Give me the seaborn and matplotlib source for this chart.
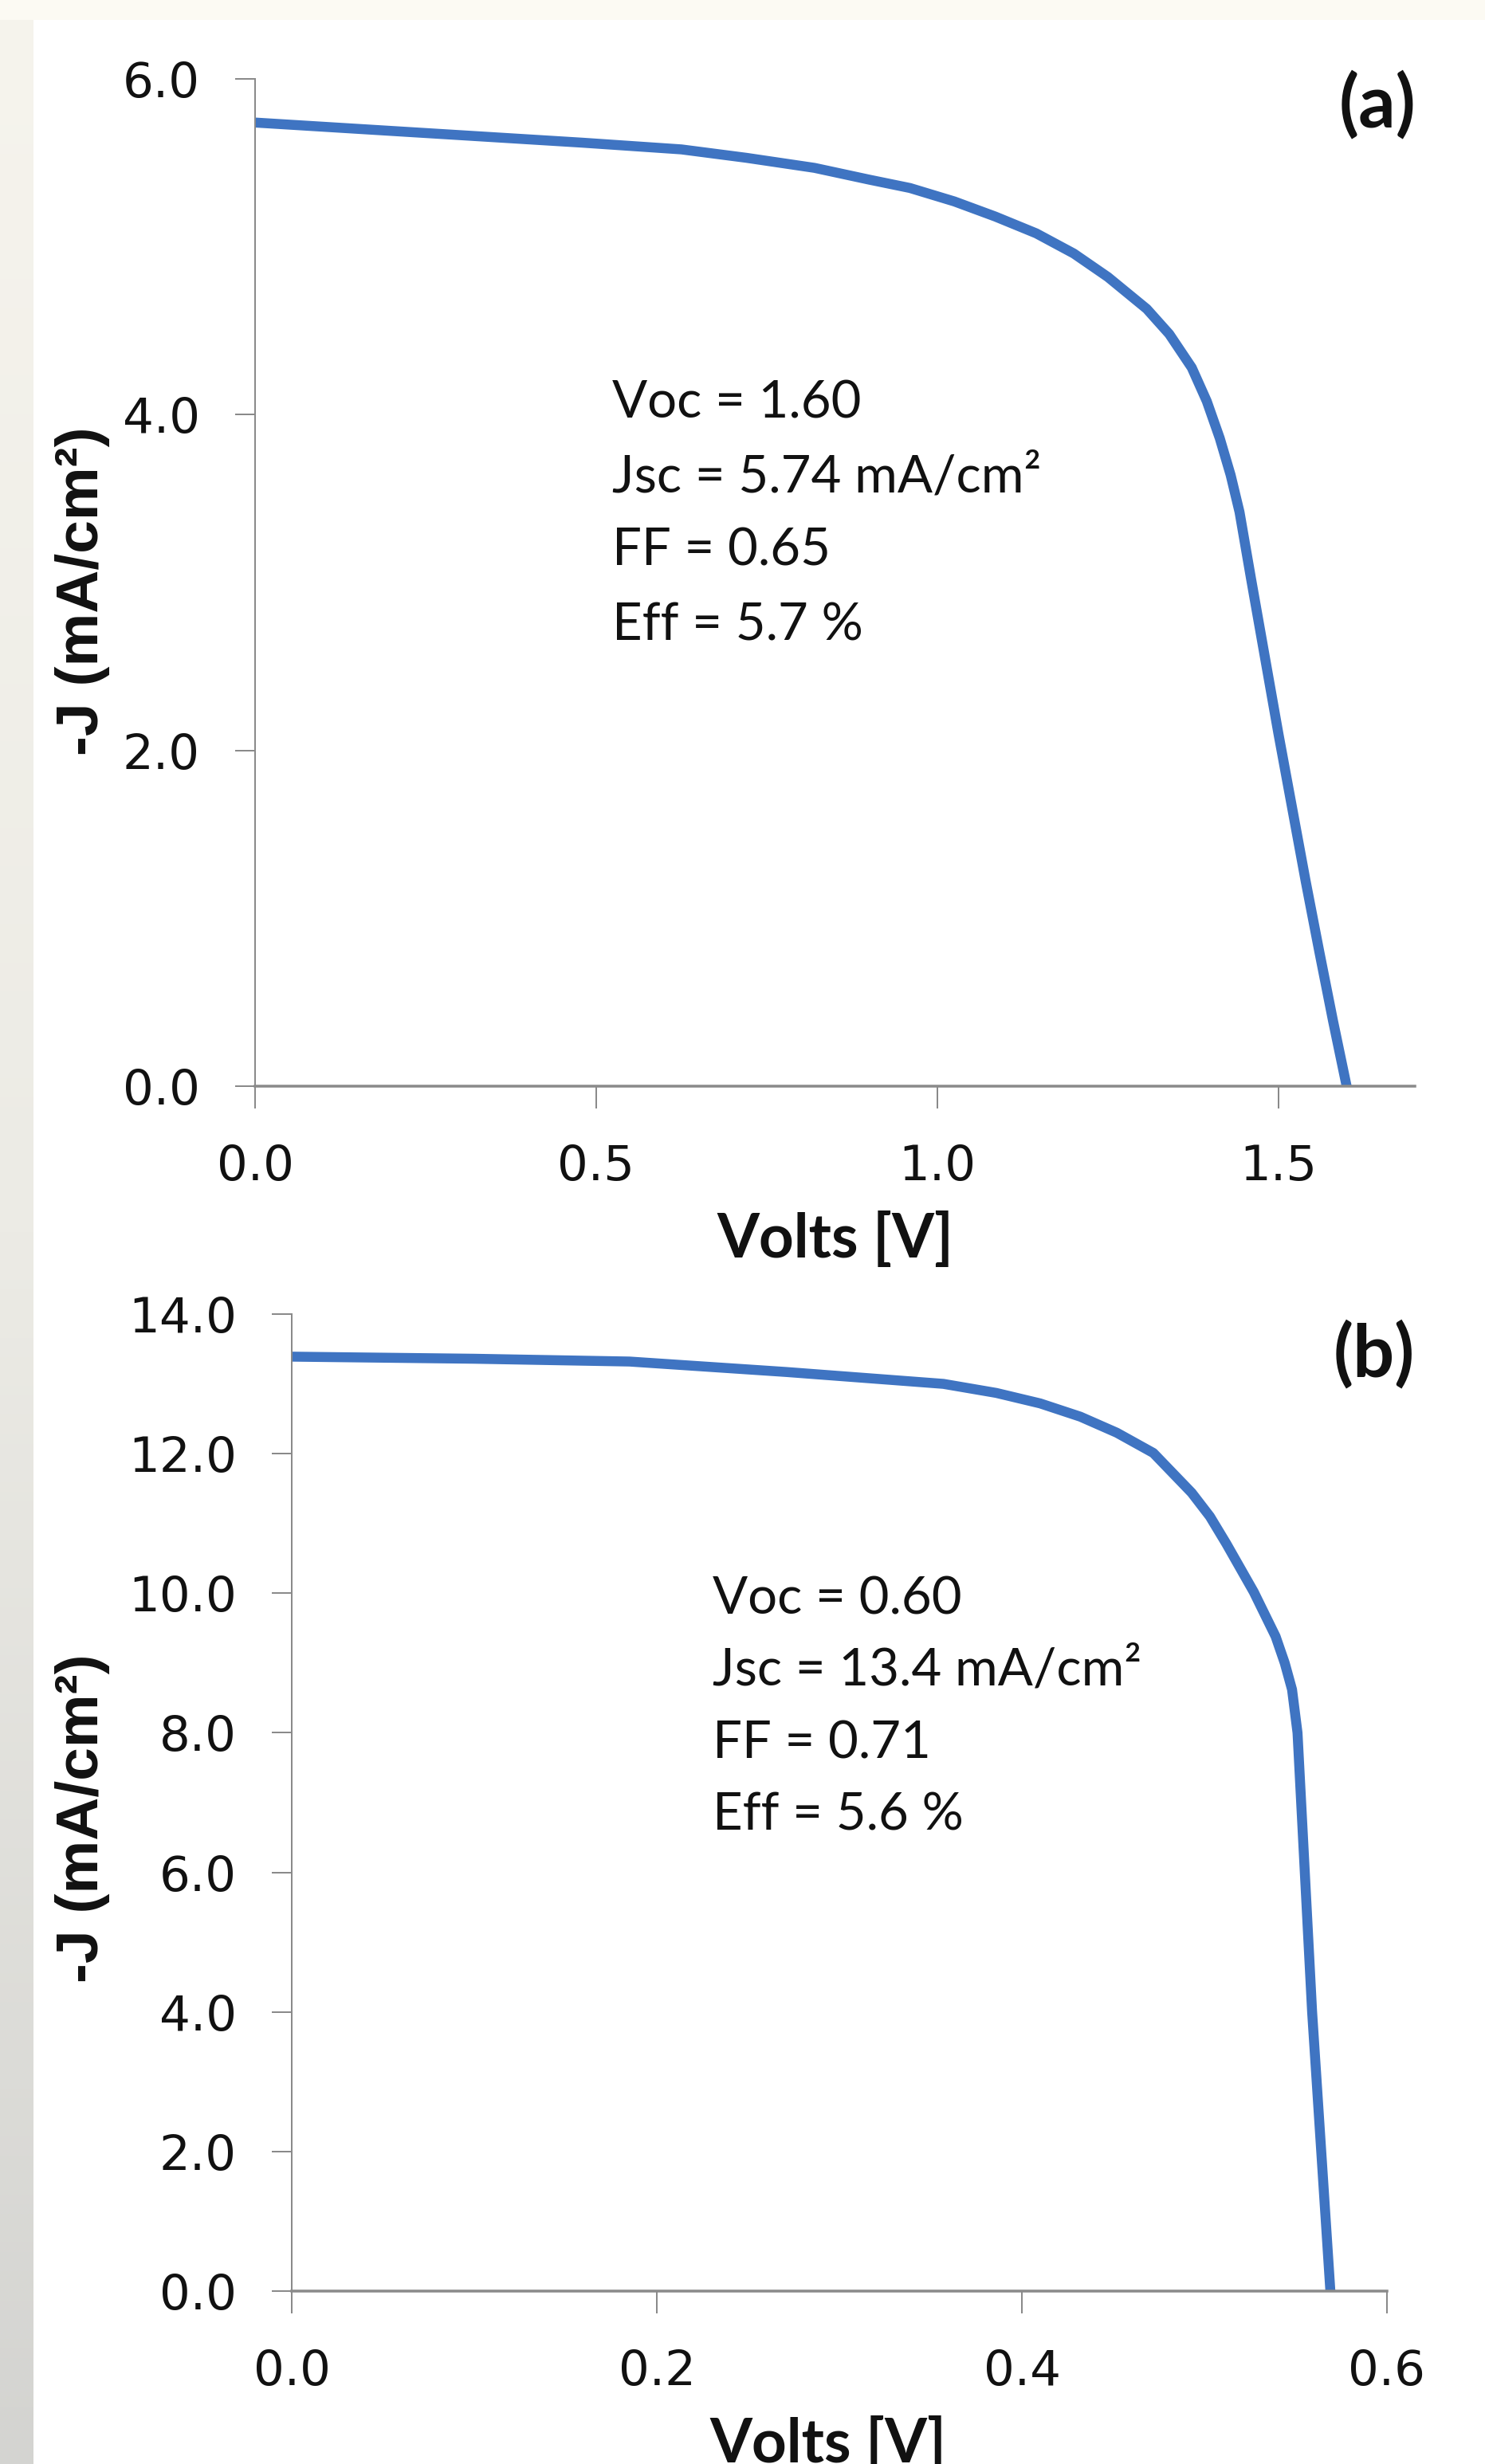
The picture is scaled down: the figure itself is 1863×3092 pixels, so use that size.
import numpy as np
import pandas as pd
import matplotlib
matplotlib.use("Agg")
import matplotlib.pyplot as plt
import seaborn as sns
from matplotlib.colors import LinearSegmentedColormap

# ---------------- data ----------------
volts_a = [0.0, 0.16, 0.32, 0.48, 0.625, 0.72, 0.82, 0.90, 0.96, 1.025, 1.085, 1.145,
           1.20, 1.25, 1.307, 1.34, 1.373, 1.395, 1.414, 1.43, 1.443, 1.46, 1.48,
           1.50, 1.52, 1.54, 1.56, 1.58, 1.60]
negJ_a = [5.74, 5.70, 5.66, 5.62, 5.58, 5.53, 5.47, 5.40, 5.35, 5.27, 5.18, 5.08,
          4.96, 4.82, 4.63, 4.48, 4.28, 4.08, 3.86, 3.64, 3.42, 3.02, 2.56,
          2.1, 1.66, 1.22, 0.8, 0.39, 0.0]

volts_b = [0.0, 0.1, 0.185, 0.271, 0.357, 0.386, 0.41, 0.432, 0.452, 0.472, 0.493,
           0.503, 0.512, 0.527, 0.539, 0.544, 0.548, 0.551, 0.555, 0.559, 0.563,
           0.566, 0.569]
negJ_b = [13.39, 13.36, 13.32, 13.17, 13.0, 12.87, 12.72, 12.53, 12.3, 12.01, 11.44,
          11.1, 10.71, 10.02, 9.38, 9.0, 8.62, 8.0, 6.0, 4.0, 2.4,
          1.2, 0.0]

xticks_a = [0.0, 0.5, 1.0, 1.5]
yticks_a = [0.0, 2.0, 4.0, 6.0]
xticks_b = [0.0, 0.2, 0.4, 0.6]
yticks_b = [0.0, 2.0, 4.0, 6.0, 8.0, 10.0, 12.0, 14.0]

notes_a = ["Voc = 1.60", "Jsc = 5.74 mA/cm²", "FF = 0.65", "Eff = 5.7 %"]
notes_b = ["Voc = 0.60", "Jsc = 13.4 mA/cm²", "FF = 0.71", "Eff = 5.6 %"]
panel_labels = ["(a)", "(b)"]
xlabel_text = "Volts [V]"
ylabel_text = "-J (mA/cm²)"

# ---------------- style ----------------
sns.set_theme(style="white")
plt.rcParams['font.family'] = ['DejaVu Sans']

W, H = 1863, 3092
DPI = 100
fig = plt.figure(figsize=(W / DPI, H / DPI), dpi=DPI, facecolor="white")

# background decorations: beige top band and grey gradient strip on the left
bg = fig.add_axes([0, 0, 1, 1], zorder=-10)
bg.set_axis_off()
bg.add_patch(plt.Rectangle((0, 0), W, 25, color="#fcfaf3", lw=0))
grad = np.linspace(0, 1, 256).reshape(-1, 1)
cm = LinearSegmentedColormap.from_list("strip", ["#f6f4ed", "#ecebe5", "#d4d4d1"])
bg.imshow(grad, cmap=cm, extent=(0, 42, H, 0), aspect="auto")
bg.set_xlim(0, W)
bg.set_ylim(H, 0)

LINE_COLOR = "#3F74C2"
AXIS_COLOR = "#8a8a8a"
TEXT_FONT = "Lato"


def px(v):
    return v * 72.0 / DPI


def style_axes(ax, xlim, ylim, xticks, yticks, xfmt, yfmt):
    ax.set_facecolor("none")
    ax.set_xlim(*xlim)
    ax.set_ylim(*ylim)
    ax.set_xticks(xticks)
    ax.set_yticks(yticks)
    ax.set_xticklabels([xfmt.format(t) for t in xticks])
    ax.set_yticklabels([yfmt.format(t) for t in yticks])
    sns.despine(ax=ax, top=True, right=True)
    ax.spines["left"].set_color(AXIS_COLOR)
    ax.spines["left"].set_linewidth(px(2))
    ax.spines["bottom"].set_color(AXIS_COLOR)
    ax.spines["bottom"].set_linewidth(px(3.5))
    ax.tick_params(axis="both", which="major", direction="out", color=AXIS_COLOR,
                   width=px(2), labelsize=44, labelcolor="#111111")
    ax.tick_params(axis="y", length=px(25), pad=px(44), left=True)
    ax.tick_params(axis="x", length=px(28), pad=px(44), bottom=True)
    ax.grid(False)


# ---------------- panel (a) ----------------
ax_a = fig.add_axes([320 / W, 1 - 1363 / H, 1455 / W, 1264 / H])
df_a = pd.DataFrame({"V": volts_a, "J": negJ_a})
sns.lineplot(data=df_a, x="V", y="J", ax=ax_a, sort=False, estimator=None,
             color=LINE_COLOR, linewidth=px(12.5))
ax_a.lines[-1].set_solid_joinstyle("round")
style_axes(ax_a, (0, 1.7), (0, 6), xticks_a, yticks_a, "{:.1f}", "{:.1f}")
ax_a.set_xlabel(xlabel_text, fontsize=55, fontweight="bold", family=TEXT_FONT,
                color="#111111")
ax_a.xaxis.set_label_coords(0.5, -(1520 - 1363) / 1264)
ax_a.set_ylabel("")
for txt, yb in zip(notes_a, [0.663, 0.590, 0.517, 0.443]):
    ax_a.text(0.308, yb, txt, transform=ax_a.transAxes, ha="left", va="baseline",
              fontsize=47, family=TEXT_FONT, color="#111111")
ax_a.text(0.968, 0.974, panel_labels[0], transform=ax_a.transAxes, ha="center",
          va="center", fontsize=66, fontweight="bold", family=TEXT_FONT, color="#111111")

# ---------------- panel (b) ----------------
ax_b = fig.add_axes([366 / W, 1 - 2875 / H, 1374 / W, 1226 / H])
df_b = pd.DataFrame({"V": volts_b, "J": negJ_b})
sns.lineplot(data=df_b, x="V", y="J", ax=ax_b, sort=False, estimator=None,
             color=LINE_COLOR, linewidth=px(12.5))
ax_b.lines[-1].set_solid_joinstyle("round")
style_axes(ax_b, (0, 0.6), (0, 14), xticks_b, yticks_b, "{:.1f}", "{:.1f}")
ax_b.set_xlabel(xlabel_text, fontsize=55, fontweight="bold", family=TEXT_FONT,
                color="#111111")
ax_b.xaxis.set_label_coords(0.49, -(3032 - 2875) / 1226)
ax_b.set_ylabel("")
for txt, yb in zip(notes_b, [0.693, 0.620, 0.545, 0.472]):
    ax_b.text(0.384, yb, txt, transform=ax_b.transAxes, ha="left", va="baseline",
              fontsize=47, family=TEXT_FONT, color="#111111")
ax_b.text(0.988, 0.958, panel_labels[1], transform=ax_b.transAxes, ha="center",
          va="center", fontsize=66, fontweight="bold", family=TEXT_FONT, color="#111111")

# ---------------- y labels ----------------
for yc in (742, 2282):
    fig.text(104 / W, 1 - yc / H, ylabel_text, rotation=90, ha="center", va="center",
             fontsize=54, fontweight="bold", family="Liberation Sans", color="#111111")

fig.savefig("out.png", dpi=DPI, facecolor="white")
